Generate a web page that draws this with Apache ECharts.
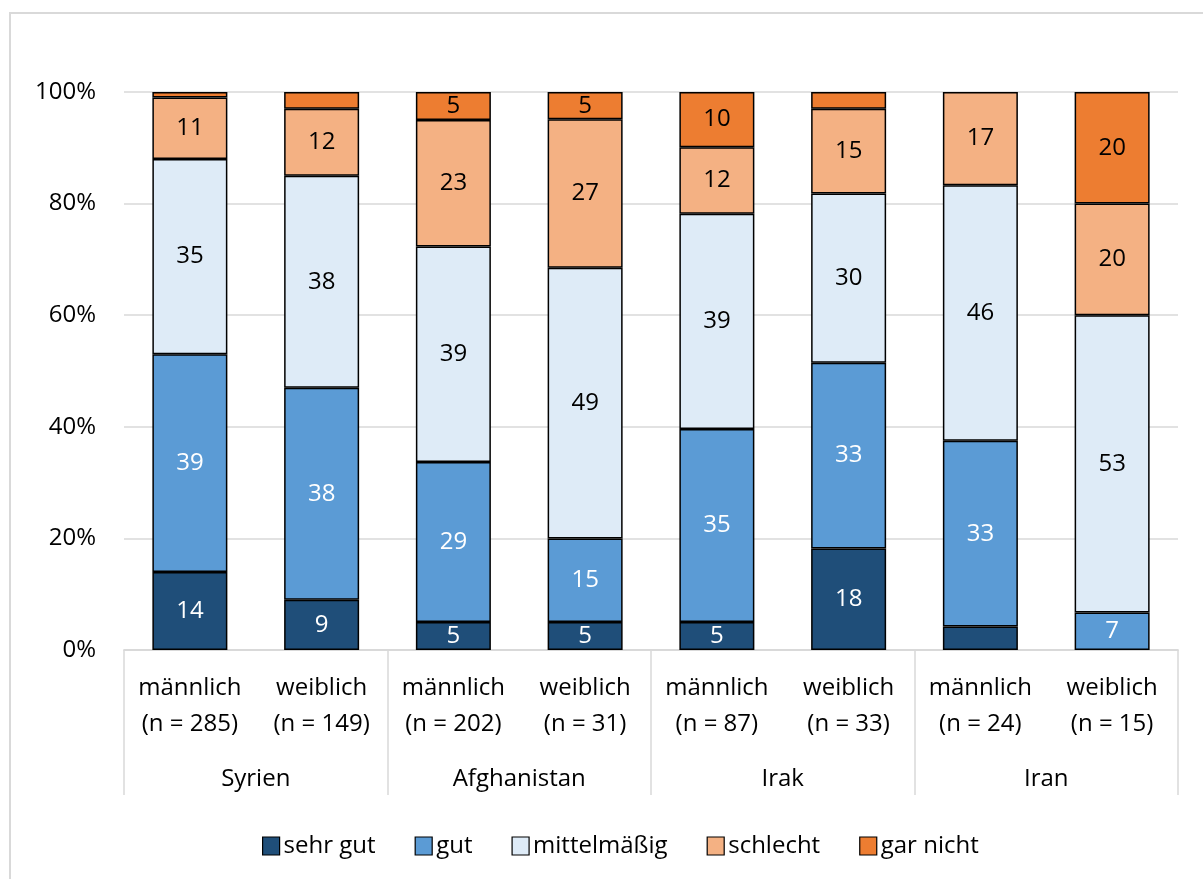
<!DOCTYPE html>
<html>
<head>
<meta charset="utf-8">
<title>Chart</title>
<script src="https://cdn.jsdelivr.net/npm/echarts@6/dist/echarts.min.js"></script>
<style>
  html, body { margin: 0; padding: 0; background: #fff; }
  #chart { width: 1203px; height: 879px; }
</style>
</head>
<body>
<div id="chart"></div>
<script>
// Data (percent per group)
const groups = ['Syrien', 'Afghanistan', 'Irak', 'Iran'];
const categories = [
    'männlich\n(n = 285)', 'weiblich\n(n = 149)',
    'männlich\n(n = 202)', 'weiblich\n(n = 31)',
    'männlich\n(n = 87)', 'weiblich\n(n = 33)',
    'männlich\n(n = 24)', 'weiblich\n(n = 15)'
];
const seriesNames = ['sehr gut', 'gut', 'mittelmäßig', 'schlecht', 'gar nicht'];
const sehrGut    = [14, 9, 5, 5, 5, 18.2, 4.2, 0];
const gut        = [39, 38, 28.7, 15, 34.6, 33.3, 33.3, 6.7];
const mittel     = [35, 38, 38.6, 48.5, 38.6, 30.3, 45.8, 53.3];
const schlecht   = [11, 12, 22.7, 26.6, 11.9, 15.2, 16.7, 20];
const garNicht   = [1, 3, 5, 4.9, 9.9, 3, 0, 20];
const yTicks = [0, 20, 40, 60, 80, 100];

const colors = ['#1f4e79', '#5b9bd5', '#deebf7', '#f4b183', '#ed7d31'];
const labelColors = ['#ffffff', '#ffffff', '#000000', '#000000', '#000000'];
const values = [sehrGut, gut, mittel, schlecht, garNicht];
const font = 'Open Sans';
const fs = 24;

const chart = echarts.init(document.getElementById('chart'));

const series = seriesNames.map(function (name, i) {
    return {
        name: name,
        type: 'bar',
        stack: 'total',
        xAxisIndex: 0,
        barWidth: 75,
        // empty segments are left out so no stray border line is drawn
        data: values[i].map(function (v) { return v === 0 ? '-' : v; }),
        itemStyle: {
            color: colors[i],
            borderColor: '#000',
            borderWidth: 1.5
        },
        label: {
            show: true,
            position: 'inside',
            color: labelColors[i],
            fontFamily: font,
            fontSize: fs,
            formatter: function (p) {
                return p.value < 4.5 ? '' : Math.round(p.value);
            }
        }
    };
});

const option = {
    animation: false,
    backgroundColor: '#fff',
    textStyle: { fontFamily: font },
    graphic: [{
        type: 'rect',
        shape: { x: 10, y: 13, width: 1200, height: 900 },
        style: { fill: 'none', stroke: '#d9d9d9', lineWidth: 2 },
        silent: true,
        z: -1
    }],
    grid: {
        left: 124,
        right: 25,
        top: 92,
        bottom: 229
    },
    legend: {
        data: seriesNames,
        left: 257,
        top: 829,
        itemWidth: 17,
        itemHeight: 18,
        itemGap: 39,
        icon: 'rect',
        itemStyle: { borderColor: '#000', borderWidth: 1.2 },
        textStyle: { fontFamily: font, fontSize: fs, color: '#000', padding: [0, 0, 0, -1] }
    },
    xAxis: [{
        type: 'category',
        data: categories,
        axisLine: { lineStyle: { color: '#d9d9d9', width: 1.5 } },
        axisTick: { show: false },
        axisLabel: {
            interval: 0,
            margin: 20,
            color: '#000',
            fontFamily: font,
            fontSize: fs,
            lineHeight: 36
        }
    }, {
        type: 'category',
        data: groups,
        position: 'bottom',
        axisLine: { lineStyle: { color: '#d9d9d9', width: 1.5 } },
        axisTick: { show: true, length: 145, lineStyle: { color: '#d9d9d9', width: 1.5 } },
        axisLabel: {
            interval: 0,
            margin: 117,
            color: '#000',
            fontFamily: font,
            fontSize: fs
        }
    }],
    yAxis: {
        type: 'value',
        min: yTicks[0],
        max: yTicks[yTicks.length - 1],
        interval: 20,
        axisLine: { show: false },
        axisTick: { show: false },
        splitLine: { lineStyle: { color: '#d9d9d9', width: 1.5 } },
        axisLabel: {
            margin: 28,
            color: '#000',
            fontFamily: font,
            fontSize: fs,
            formatter: '{value}%'
        }
    },
    series: series
};

chart.setOption(option);
</script>
</body>
</html>
